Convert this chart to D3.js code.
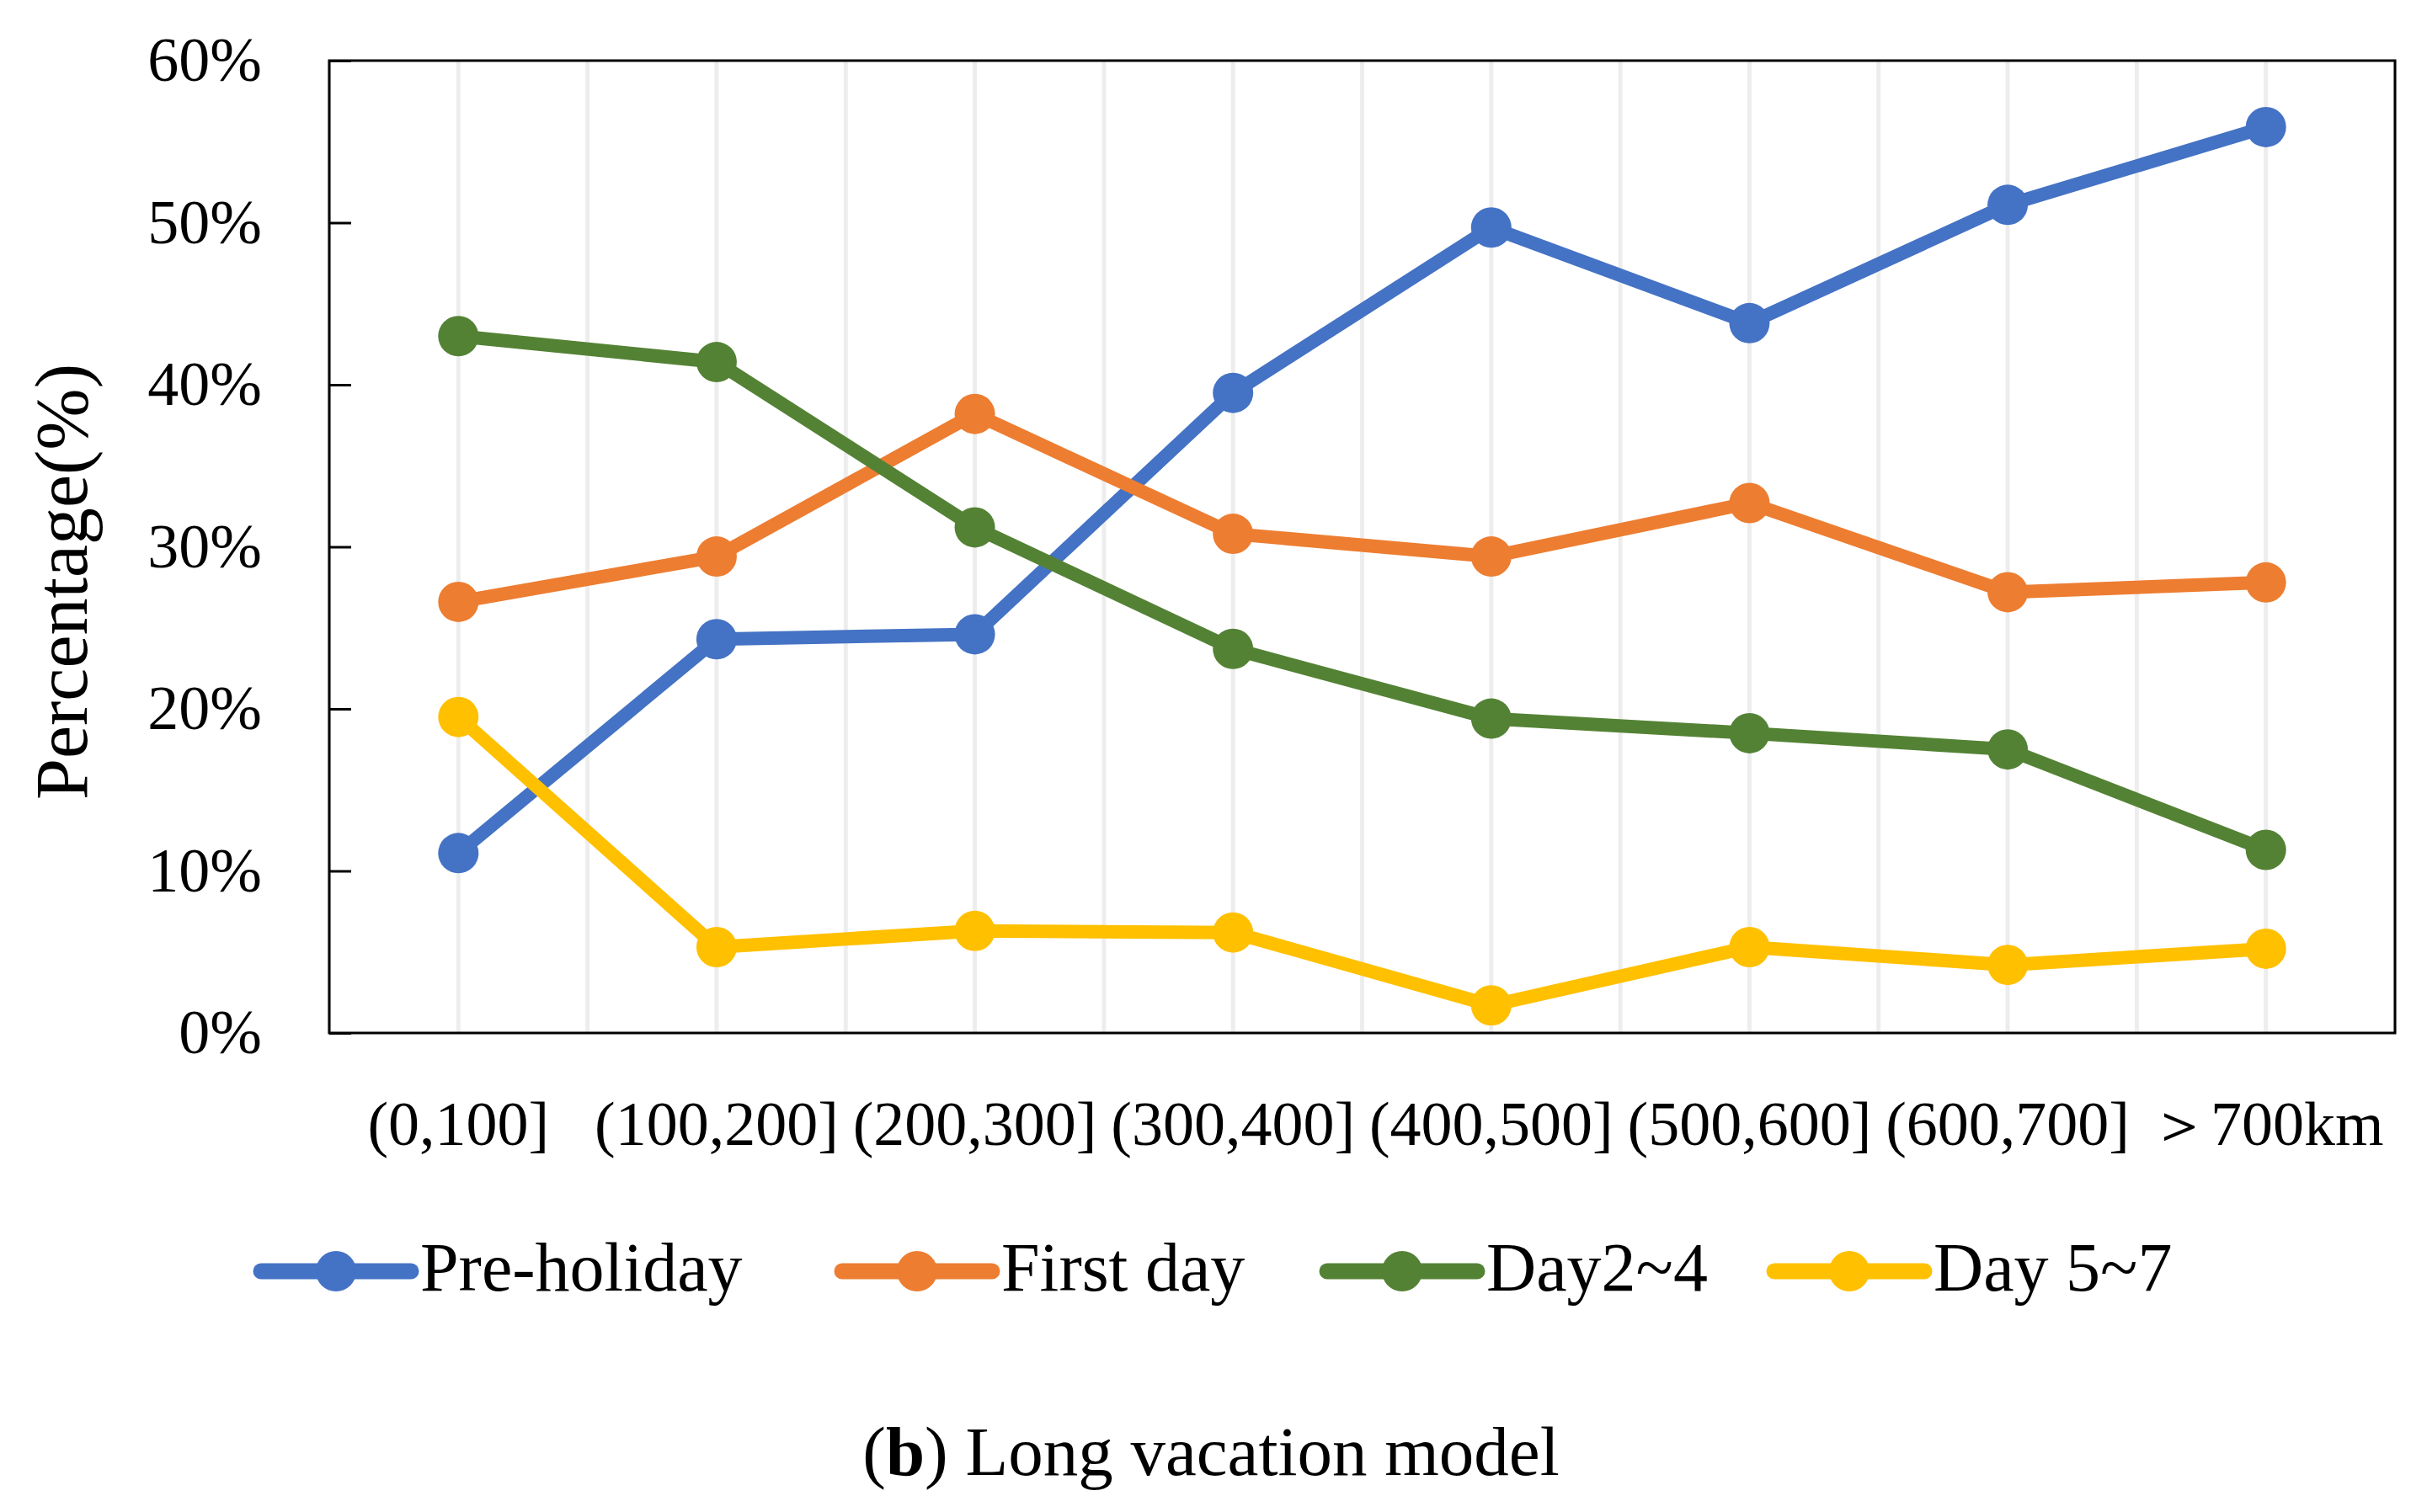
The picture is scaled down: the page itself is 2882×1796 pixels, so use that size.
<!DOCTYPE html>
<html>
<head>
<meta charset="utf-8">
<script src="https://cdn.jsdelivr.net/npm/d3@7"></script>
<style>
  html, body { margin: 0; padding: 0; background: #ffffff; }
  svg { display: block; }
  text { font-family: "Liberation Serif", "Times New Roman", serif; fill: #000; }
</style>
</head>
<body>
<script>
// ---- data ----
const categories = ["(0,100]", "(100,200]", "(200,300]", "(300,400]", "(400,500]", "(500,600]", "(600,700]", "\uFF1E700km"];
const seriesNames = ["Pre-holiday", "First day", "Day2~4", "Day 5~7"];
const preHoliday = [11.1, 24.3, 24.6, 39.5, 49.7, 43.8, 51.1, 55.9];
const firstDay   = [26.6, 29.4, 38.2, 30.8, 29.4, 32.7, 27.2, 27.8];
const day2to4    = [43.0, 41.4, 31.2, 23.7, 19.4, 18.5, 17.5, 11.3];
const day5to7    = [19.5, 5.3, 6.3, 6.2, 1.7, 5.3, 4.2, 5.2];
const yTicks = [0, 10, 20, 30, 40, 50, 60];
const seriesColors = ["#4472C4", "#ED7D31", "#548235", "#FFC000"];
const seriesValues = [preHoliday, firstDay, day2to4, day5to7];

// ---- layout ----
const W = 2882, H = 1796;
const plot = { left: 391, right: 2844, top: 72, bottom: 1227 };
const legendStarts = [310, 1000, 1576, 2107];

const svg = d3.select("body").append("svg").attr("width", W).attr("height", H);

const x = d3.scaleBand().domain(categories).range([plot.left, plot.right]).padding(0);
const y = d3.scaleLinear().domain([0, 60]).range([plot.bottom, plot.top]);
const cx = d => x(d) + x.bandwidth() / 2;

// vertical gridlines at band edges and centers
const gridX = [];
categories.forEach(c => { gridX.push(x(c)); gridX.push(cx(c)); });
gridX.push(plot.right);
svg.append("g").selectAll("line").data(gridX).join("line")
  .attr("x1", d => d).attr("x2", d => d)
  .attr("y1", plot.top).attr("y2", plot.bottom)
  .attr("stroke", "#ededed").attr("stroke-width", 5);

// frame
svg.append("rect")
  .attr("x", plot.left).attr("y", plot.top)
  .attr("width", plot.right - plot.left).attr("height", plot.bottom - plot.top)
  .attr("fill", "none").attr("stroke", "#000").attr("stroke-width", 3);

// y axis (ticks inward)
const yAxis = d3.axisLeft(y).tickValues(yTicks).tickSize(-26).tickPadding(0)
  .tickFormat(d => d + "%");
const gy = svg.append("g").attr("transform", `translate(${plot.left},0)`).call(yAxis);
gy.select(".domain").remove();
gy.selectAll(".tick line").attr("stroke", "#000").attr("stroke-width", 3);
gy.selectAll(".tick text")
  .attr("x", 311 - plot.left).attr("dy", "0.32em")
  .attr("text-anchor", "end")
  .style("font-family", "'Liberation Serif', serif")
  .style("font-size", "74px").attr("fill", "#000");

// x axis labels
const xAxis = d3.axisBottom(x).tickSize(0).tickPadding(0);
const gx = svg.append("g").attr("transform", `translate(0,${plot.bottom})`).call(xAxis);
gx.select(".domain").remove();
gx.selectAll(".tick text")
  .attr("y", 1360 - plot.bottom).attr("dy", 0)
  .style("font-family", "'Liberation Serif', serif")
  .style("font-size", "74px").attr("fill", "#000");

// y axis title
svg.append("text")
  .attr("transform", "translate(103,691) rotate(-90)")
  .attr("text-anchor", "middle")
  .style("font-size", "88px")
  .text("Percentage(%)");

// series
const line = d3.line().x((d, i) => cx(categories[i])).y(d => y(d));
seriesValues.forEach((vals, s) => {
  const g = svg.append("g");
  g.append("path").datum(vals)
    .attr("d", line).attr("fill", "none")
    .attr("stroke", seriesColors[s]).attr("stroke-width", 16)
    .attr("stroke-linejoin", "round").attr("stroke-linecap", "round");
  g.selectAll("circle").data(vals).join("circle")
    .attr("cx", (d, i) => cx(categories[i])).attr("cy", d => y(d))
    .attr("r", 24).attr("fill", seriesColors[s]);
});

// legend
const legendY = 1510;
const legend = svg.append("g");
seriesNames.forEach((name, s) => {
  const g = legend.append("g").attr("transform", `translate(${legendStarts[s]},0)`);
  g.append("line").attr("x1", 0).attr("x2", 178).attr("y1", legendY).attr("y2", legendY)
    .attr("stroke", seriesColors[s]).attr("stroke-width", 19).attr("stroke-linecap", "round");
  g.append("circle").attr("cx", 89).attr("cy", legendY).attr("r", 24).attr("fill", seriesColors[s]);
  g.append("text").attr("x", 189).attr("y", 1533)
    .style("font-size", "82px").text(name);
});

// caption
const cap = svg.append("text").attr("x", 1438).attr("y", 1752)
  .attr("text-anchor", "middle").style("font-size", "83px");
cap.append("tspan").text("(");
cap.append("tspan").style("font-weight", "bold").text("b");
cap.append("tspan").text(") Long vacation model");
</script>
</body>
</html>
